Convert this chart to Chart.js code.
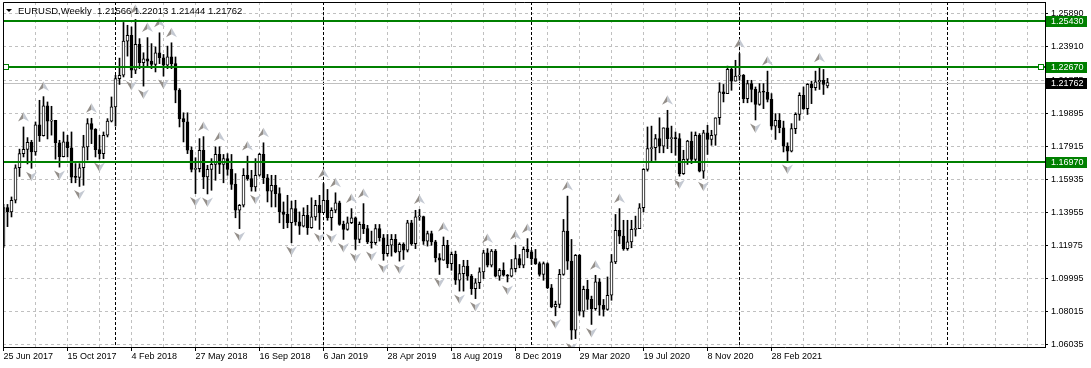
<!DOCTYPE html>
<html>
<head>
<meta charset="utf-8">
<script src="https://cdn.jsdelivr.net/npm/chart.js@4.4.0/dist/chart.umd.min.js"></script>
<style>
  html, body { margin: 0; padding: 0; background: #fff; }
  #wrap { width: 1091px; height: 368px; }
</style>
</head>
<body>
<div id="wrap"><canvas id="chart" width="1091" height="368"></canvas></div>
<script>
// EURUSD weekly bars, first bar = week of 25 Jun 2017
const opens = [
  1.1195, 1.1426, 1.1400, 1.1470, 1.1665, 1.1750, 1.1775, 1.1818, 1.1760, 1.1923,
  1.1858, 1.2036, 1.1945, 1.1950, 1.1815, 1.1732, 1.1820, 1.1785, 1.1608, 1.1607,
  1.1665, 1.1790, 1.1930, 1.1895, 1.1774, 1.1750, 1.1860, 1.1945, 1.2030, 1.2200,
  1.2220, 1.2425, 1.2460, 1.2250, 1.2405, 1.2295, 1.2318, 1.2305, 1.2285, 1.2355,
  1.2325, 1.2280, 1.2330, 1.2290, 1.2130, 1.1960, 1.1940, 1.1770, 1.1655, 1.1660,
  1.1770, 1.1610, 1.1655, 1.1685, 1.1745, 1.1685, 1.1720, 1.1655, 1.1565, 1.1410,
  1.1440, 1.1620, 1.1600, 1.1550, 1.1620, 1.1745, 1.1605, 1.1525, 1.1560, 1.1510,
  1.1400, 1.1385, 1.1335, 1.1420, 1.1340, 1.1315, 1.1380, 1.1305, 1.1370, 1.1440,
  1.1395, 1.1470, 1.1365, 1.1410, 1.1455, 1.1325, 1.1295, 1.1335, 1.1365, 1.1235,
  1.1325, 1.1300, 1.1220, 1.1215, 1.1300, 1.1245, 1.1150, 1.1200, 1.1235, 1.1160,
  1.1205, 1.1170, 1.1335, 1.1210, 1.1370, 1.1372, 1.1225, 1.1270, 1.1220, 1.1125,
  1.1110, 1.1200, 1.1090, 1.1145, 1.0990, 1.1030, 1.1075, 1.1015, 1.0940, 1.0975,
  1.1040, 1.1155, 1.1080, 1.1165, 1.1015, 1.1050, 1.1020, 1.1015, 1.1060, 1.1120,
  1.1080, 1.1175, 1.1160, 1.1120, 1.1090, 1.1025, 1.1090, 1.0945, 1.0830, 1.0845,
  1.1025, 1.1285, 1.1105, 1.0690, 1.1140, 1.0805, 1.0935, 1.0875, 1.0820, 1.0980,
  1.0840, 1.0815, 1.0900, 1.1100, 1.1290, 1.1255, 1.1180, 1.1220, 1.1295, 1.1300,
  1.1425, 1.1655, 1.1780, 1.1785, 1.1840, 1.1795, 1.1905, 1.1840, 1.1845, 1.1840,
  1.1630, 1.1715, 1.1825, 1.1715, 1.1860, 1.1645, 1.1875, 1.1835, 1.1860, 1.1965,
  1.2120, 1.2110, 1.2255, 1.2185, 1.2215, 1.2220, 1.2080, 1.2170, 1.2135, 1.2045,
  1.2120, 1.2118, 1.2075, 1.1915, 1.1950, 1.1905, 1.1795, 1.1765, 1.1900, 1.1985,
  1.2100, 1.2020, 1.2165, 1.2145, 1.2180, 1.2190, 1.21566
];
const highs = [
  1.1445, 1.1445, 1.1490, 1.1683, 1.1777, 1.1910, 1.1846, 1.1830, 1.1940, 1.2070,
  1.2092, 1.2060, 1.2034, 1.1950, 1.1830, 1.1880, 1.1860, 1.1880, 1.1690, 1.1690,
  1.1860, 1.1960, 1.1962, 1.1900, 1.1860, 1.1880, 1.1960, 1.2090, 1.2220, 1.2323,
  1.2537, 1.2520, 1.2510, 1.2555, 1.2440, 1.2355, 1.2446, 1.2410, 1.2390, 1.2475,
  1.2345, 1.2395, 1.2415, 1.2330, 1.2140, 1.1995, 1.1995, 1.1790, 1.1725, 1.1840,
  1.1852, 1.1680, 1.1720, 1.1790, 1.1791, 1.1745, 1.1750, 1.1745, 1.1630, 1.1445,
  1.1660, 1.1735, 1.1650, 1.1720, 1.1752, 1.1815, 1.1625, 1.1620, 1.1620, 1.1545,
  1.1460, 1.1500, 1.1465, 1.1470, 1.1400, 1.1425, 1.1440, 1.1485, 1.1470, 1.1500,
  1.1570, 1.1535, 1.1425, 1.1515, 1.1465, 1.1345, 1.1370, 1.1420, 1.1370, 1.1340,
  1.1450, 1.1320, 1.1285, 1.1325, 1.1325, 1.1265, 1.1265, 1.1265, 1.1265, 1.1215,
  1.1215, 1.1350, 1.1350, 1.1410, 1.1415, 1.1375, 1.1285, 1.1285, 1.1230, 1.1150,
  1.1250, 1.1230, 1.1160, 1.1165, 1.1085, 1.1110, 1.1110, 1.1025, 1.1000, 1.1065,
  1.1170, 1.1180, 1.1175, 1.1175, 1.1060, 1.1095, 1.1025, 1.1115, 1.1200, 1.1145,
  1.1190, 1.1240, 1.1170, 1.1175, 1.1100, 1.1100, 1.1095, 1.0965, 1.0865, 1.1055,
  1.1355, 1.1495, 1.1235, 1.1145, 1.1145, 1.0955, 1.0990, 1.0895, 1.1020, 1.1000,
  1.0875, 1.1010, 1.1145, 1.1385, 1.1420, 1.1350, 1.1350, 1.1350, 1.1375, 1.1450,
  1.1660, 1.1910, 1.1915, 1.1865, 1.1965, 1.1905, 1.2010, 1.1915, 1.1880, 1.1870,
  1.1770, 1.1830, 1.1880, 1.1880, 1.1870, 1.1890, 1.1920, 1.1890, 1.1965, 1.2175,
  1.2165, 1.2275, 1.2270, 1.2310, 1.2350, 1.2225, 1.2190, 1.2190, 1.2150, 1.2170,
  1.2170, 1.2245, 1.2110, 1.1990, 1.1990, 1.1945, 1.1815, 1.1930, 1.1995, 1.2115,
  1.2150, 1.2170, 1.2185, 1.2245, 1.2265, 1.2255, 1.22013
];
const lows = [
  1.1185, 1.1312, 1.1370, 1.1454, 1.1613, 1.1730, 1.1688, 1.1662, 1.1740, 1.1823,
  1.1855, 1.1838, 1.1861, 1.1717, 1.1669, 1.1730, 1.1730, 1.1575, 1.1575, 1.1553,
  1.1560, 1.1712, 1.1810, 1.1730, 1.1718, 1.1720, 1.1850, 1.1940, 1.1915, 1.2165,
  1.2210, 1.2335, 1.2206, 1.2230, 1.2260, 1.2155, 1.2275, 1.2260, 1.2240, 1.2290,
  1.2215, 1.2260, 1.2260, 1.2055, 1.1910, 1.1820, 1.1750, 1.1640, 1.1510, 1.1640,
  1.1540, 1.1508, 1.1530, 1.1590, 1.1630, 1.1575, 1.1620, 1.1535, 1.1365, 1.1300,
  1.1430, 1.1590, 1.1525, 1.1524, 1.1615, 1.1570, 1.1460, 1.1430, 1.1430, 1.1335,
  1.1300, 1.1305, 1.1215, 1.1320, 1.1265, 1.1310, 1.1265, 1.1302, 1.1350, 1.1295,
  1.1395, 1.1350, 1.1290, 1.1395, 1.1320, 1.1235, 1.1290, 1.1330, 1.1175, 1.1215,
  1.1270, 1.1210, 1.1183, 1.1205, 1.1225, 1.1110, 1.1135, 1.1135, 1.1155, 1.1105,
  1.1115, 1.1160, 1.1200, 1.1180, 1.1350, 1.1205, 1.1195, 1.1200, 1.1100, 1.1025,
  1.1110, 1.1065, 1.1050, 1.0965, 1.0925, 1.0925, 1.0990, 1.0905, 1.0880, 1.0940,
  1.1000, 1.1070, 1.1070, 1.1010, 1.0990, 1.1015, 1.0980, 1.1010, 1.1040, 1.1065,
  1.1065, 1.1125, 1.1085, 1.1085, 1.1015, 1.0990, 1.0940, 1.0825, 1.0777, 1.0825,
  1.1020, 1.1055, 1.0635, 1.0640, 1.0780, 1.0770, 1.0815, 1.0725, 1.0810, 1.0780,
  1.0775, 1.0810, 1.0870, 1.1090, 1.1210, 1.1170, 1.1170, 1.1185, 1.1255, 1.1300,
  1.1400, 1.1645, 1.1705, 1.1710, 1.1755, 1.1755, 1.1780, 1.1755, 1.1740, 1.1615,
  1.1625, 1.1685, 1.1690, 1.1700, 1.1640, 1.1602, 1.1745, 1.1800, 1.1800, 1.1925,
  1.2060, 1.2110, 1.2130, 1.2185, 1.2190, 1.2055, 1.2055, 1.2060, 1.1952, 1.2040,
  1.2020, 1.2060, 1.1895, 1.1835, 1.1875, 1.1760, 1.1705, 1.1760, 1.1870, 1.1950,
  1.2015, 1.1985, 1.2050, 1.2130, 1.2135, 1.2105, 1.21444
];
const closes = [
  1.1426, 1.1400, 1.1470, 1.1665, 1.1750, 1.1775, 1.1818, 1.1760, 1.1923, 1.1858,
  1.2036, 1.1945, 1.1950, 1.1815, 1.1732, 1.1820, 1.1785, 1.1608, 1.1607, 1.1665,
  1.1790, 1.1930, 1.1895, 1.1774, 1.1750, 1.1860, 1.1945, 1.2030, 1.2200, 1.2220,
  1.2425, 1.2460, 1.2250, 1.2405, 1.2295, 1.2318, 1.2305, 1.2285, 1.2355, 1.2325,
  1.2280, 1.2330, 1.2290, 1.2130, 1.1960, 1.1940, 1.1770, 1.1655, 1.1660, 1.1770,
  1.1610, 1.1655, 1.1685, 1.1745, 1.1685, 1.1720, 1.1655, 1.1565, 1.1410, 1.1440,
  1.1620, 1.1600, 1.1550, 1.1620, 1.1745, 1.1605, 1.1525, 1.1560, 1.1510, 1.1400,
  1.1385, 1.1335, 1.1420, 1.1340, 1.1315, 1.1380, 1.1305, 1.1370, 1.1440, 1.1395,
  1.1470, 1.1365, 1.1410, 1.1455, 1.1325, 1.1295, 1.1335, 1.1365, 1.1235, 1.1325,
  1.1300, 1.1220, 1.1215, 1.1300, 1.1245, 1.1150, 1.1200, 1.1235, 1.1160, 1.1205,
  1.1170, 1.1335, 1.1210, 1.1370, 1.1372, 1.1225, 1.1270, 1.1220, 1.1125, 1.1110,
  1.1200, 1.1090, 1.1145, 1.0990, 1.1030, 1.1075, 1.1015, 1.0940, 1.0975, 1.1040,
  1.1155, 1.1080, 1.1165, 1.1015, 1.1050, 1.1020, 1.1015, 1.1060, 1.1120, 1.1080,
  1.1175, 1.1160, 1.1120, 1.1090, 1.1025, 1.1090, 1.0945, 1.0830, 1.0845, 1.1025,
  1.1285, 1.1105, 1.0690, 1.1140, 1.0805, 1.0935, 1.0875, 1.0820, 1.0980, 1.0840,
  1.0815, 1.0900, 1.1100, 1.1290, 1.1255, 1.1180, 1.1220, 1.1295, 1.1300, 1.1425,
  1.1655, 1.1780, 1.1785, 1.1840, 1.1795, 1.1905, 1.1840, 1.1845, 1.1840, 1.1630,
  1.1715, 1.1825, 1.1715, 1.1860, 1.1645, 1.1875, 1.1835, 1.1860, 1.1965, 1.2120,
  1.2110, 1.2255, 1.2185, 1.2215, 1.2220, 1.2080, 1.2170, 1.2135, 1.2045, 1.2120,
  1.2118, 1.2075, 1.1915, 1.1950, 1.1905, 1.1795, 1.1765, 1.1900, 1.1985, 1.2100,
  1.2020, 1.2165, 1.2145, 1.2180, 1.2190, 1.2165, 1.21762
];

// bars carrying a fractal arrow (bar index)
const upFractals = [5, 10, 22, 33, 36, 39, 42, 50, 54, 61, 65, 80, 83, 87, 90, 104, 110,
  121, 128, 131, 141, 148, 154, 166, 184, 191, 204];
const downFractals = [7, 14, 19, 24, 32, 35, 40, 48, 51, 59, 63, 72, 79, 82, 85, 88, 92,
  95, 99, 109, 114, 118, 126, 138, 142, 147, 169, 175, 188, 196];

// horizontal lines drawn on the chart
const levels = [1.25430, 1.22670, 1.16970];
// year separators (bar index)
const separators = [28, 80, 132, 184, 236];

const yTickValues = [1.06035, 1.08015, 1.09995, 1.11975, 1.13955, 1.15935,
  1.17915, 1.19895, 1.21875, 1.23910, 1.25890];
const xTickLabels = ['25 Jun 2017', '15 Oct 2017', '4 Feb 2018', '27 May 2018', '16 Sep 2018',
  '6 Jan 2019', '28 Apr 2019', '18 Aug 2019', '8 Dec 2019', '29 Mar 2020', '19 Jul 2020',
  '8 Nov 2020', '28 Feb 2021'];

const symbolTitle = 'EURUSD,Weekly';
const FONT = "9px 'Liberation Sans'";
const HEAD_FONT = "9.5px 'Liberation Sans'";
const GREEN = '#008000';

const last = closes.length - 1;
const gridIdx = [];
for (let v = 0; v <= 256; v += 8) gridIdx.push(v);

function drawArrow(ctx, x, y, up) {
  const d = up ? 1 : -1;
  ctx.beginPath();
  ctx.moveTo(x, y - 5 * d);
  ctx.lineTo(x, y + 1.5 * d);
  ctx.lineTo(x - 5.5, y + 4.5 * d);
  ctx.closePath();
  ctx.fillStyle = '#948f8a';
  ctx.fill();
  ctx.beginPath();
  ctx.moveTo(x, y - 5 * d);
  ctx.lineTo(x + 5.5, y + 4.5 * d);
  ctx.lineTo(x, y + 1.5 * d);
  ctx.closePath();
  ctx.fillStyle = '#c4c9d2';
  ctx.fill();
}

function priceTag(ctx, area, y, text, bg) {
  const yy = Math.round(y);
  ctx.fillStyle = bg;
  ctx.fillRect(area.right + 1, yy - 5, 41, 11);
  ctx.fillStyle = '#fff';
  ctx.font = FONT;
  ctx.textAlign = 'left';
  ctx.textBaseline = 'middle';
  ctx.fillText(text, area.right + 6, yy + 0.5);
}

const mt4Overlay = {
  id: 'mt4Overlay',
  beforeDraw(chart) {
    const ctx = chart.ctx;
    ctx.save();
    ctx.fillStyle = '#fff';
    ctx.fillRect(0, 0, chart.width, chart.height);
    ctx.restore();
  },
  beforeDatasetsDraw(chart) {
    const {ctx, chartArea: a, scales: {x, y}} = chart;
    ctx.save();
    // period separators
    ctx.strokeStyle = '#000';
    ctx.lineWidth = 1;
    ctx.setLineDash([3, 2]);
    separators.forEach(i => {
      const px = Math.floor(x.getPixelForValue(i)) + 0.5;
      ctx.beginPath();
      ctx.moveTo(px, a.top);
      ctx.lineTo(px, a.bottom);
      ctx.stroke();
    });
    // bid line
    ctx.setLineDash([]);
    ctx.strokeStyle = '#c0c0c0';
    const by = Math.round(y.getPixelForValue(closes[last])) + 0.5;
    ctx.beginPath();
    ctx.moveTo(a.left, by);
    ctx.lineTo(a.right, by);
    ctx.stroke();
    ctx.restore();
  },
  afterDatasetsDraw(chart) {
    const {ctx, chartArea: a, scales: {x, y}} = chart;
    ctx.save();
    ctx.beginPath();
    ctx.rect(a.left, a.top, a.right - a.left, a.bottom - a.top);
    ctx.clip();
    upFractals.forEach(i => drawArrow(ctx, x.getPixelForValue(i), y.getPixelForValue(highs[i]) - 10, true));
    downFractals.forEach(i => drawArrow(ctx, x.getPixelForValue(i), y.getPixelForValue(lows[i]) + 8, false));
    // horizontal levels
    ctx.strokeStyle = GREEN;
    ctx.lineWidth = 2;
    levels.forEach(v => {
      const py = Math.round(y.getPixelForValue(v));
      ctx.beginPath();
      ctx.moveTo(a.left, py);
      ctx.lineTo(a.right, py);
      ctx.stroke();
    });
    // selection handles on the middle line
    const hy = Math.round(y.getPixelForValue(levels[1]));
    ctx.lineWidth = 1;
    [a.left + 0.5, a.right - 6.5].forEach(hx => {
      ctx.fillStyle = '#fff';
      ctx.fillRect(hx, hy - 2.5, 5, 5);
      ctx.strokeRect(hx, hy - 2.5, 5, 5);
    });
    ctx.restore();
  },
  afterDraw(chart) {
    const {ctx, chartArea: a, scales: {y}} = chart;
    ctx.save();
    // frame top / left
    ctx.strokeStyle = '#000';
    ctx.lineWidth = 1;
    ctx.beginPath();
    ctx.moveTo(a.left + 0.5, a.bottom);
    ctx.lineTo(a.left + 0.5, a.top + 0.5);
    ctx.lineTo(a.right, a.top + 0.5);
    ctx.stroke();
    // price tags
    levels.forEach(v => priceTag(ctx, a, y.getPixelForValue(v), v.toFixed(5), GREEN));
    priceTag(ctx, a, y.getPixelForValue(closes[last]), closes[last].toFixed(5), '#000');
    // header
    ctx.fillStyle = '#000';
    ctx.beginPath();
    ctx.moveTo(6, 9);
    ctx.lineTo(12, 9);
    ctx.lineTo(9, 12);
    ctx.closePath();
    ctx.fill();
    ctx.font = HEAD_FONT;
    ctx.textAlign = 'left';
    ctx.textBaseline = 'middle';
    const ohlc = [opens[last], highs[last], lows[last], closes[last]].map(v => v.toFixed(5)).join(' ');
    ctx.fillText(symbolTitle + '  ' + ohlc, 18, 11);
    ctx.restore();
  }
};

Chart.defaults.font.family = 'Liberation Sans';
Chart.defaults.font.size = 9;
Chart.defaults.color = '#000';

new Chart(document.getElementById('chart'), {
  type: 'bar',
  data: {
    datasets: [
      {
        label: 'body',
        data: opens.map((o, i) => ({x: i, y: [o, closes[i]]})),
        backgroundColor: opens.map((o, i) => closes[i] >= o ? '#ffffff' : '#000000'),
        borderColor: '#000',
        borderWidth: 1,
        borderSkipped: false,
        minBarLength: 1,
        grouped: false,
        barPercentage: 1,
        categoryPercentage: 1,
        maxBarThickness: 3,
        order: 0
      },
      {
        label: 'wick',
        data: lows.map((l, i) => ({x: i, y: [l, highs[i]]})),
        backgroundColor: '#000',
        borderWidth: 0,
        grouped: false,
        barPercentage: 1,
        categoryPercentage: 1,
        maxBarThickness: 1,
        order: 1
      }
    ]
  },
  options: {
    responsive: false,
    animation: false,
    events: [],
    layout: { padding: { left: 3, top: 2, right: 0, bottom: 0 } },
    plugins: { legend: { display: false }, tooltip: { enabled: false } },
    scales: {
      x: {
        type: 'linear',
        min: -0.125,
        max: 260.375,
        offset: false,
        afterBuildTicks: s => { s.ticks = gridIdx.map(v => ({value: v})); },
        afterFit: s => { s.height = 21; s.paddingLeft = 0; s.paddingRight = 0; },
        grid: {
          color: '#c0c0c0',
          offset: false,
          tickLength: 4,
          tickBorderDash: [],
          tickColor: c => (c.tick && c.tick.value % 16 === 0 && c.tick.value / 16 < xTickLabels.length) ? '#000' : 'rgba(0,0,0,0)'
        },
        border: { display: true, color: '#000', width: 1, dash: [3, 3] },
        ticks: {
          autoSkip: false,
          maxRotation: 0,
          minRotation: 0,
          align: 'start',
          padding: 0,
          color: '#000',
          callback: v => (v % 16 === 0 && xTickLabels[v / 16]) ? xTickLabels[v / 16] : ''
        }
      },
      y: {
        position: 'right',
        min: 1.05897,
        max: 1.26597,
        afterBuildTicks: s => { s.ticks = yTickValues.map(v => ({value: v})); },
        afterFit: s => { s.width = 46; s.paddingTop = 0; s.paddingBottom = 0; },
        grid: { color: '#c0c0c0', tickLength: 3, tickColor: '#000', tickBorderDash: [] },
        border: { display: true, color: '#000', width: 1, dash: [3, 3] },
        ticks: { padding: 3, color: '#000', callback: v => v.toFixed(5) }
      }
    }
  },
  plugins: [mt4Overlay]
});
</script>
</body>
</html>
